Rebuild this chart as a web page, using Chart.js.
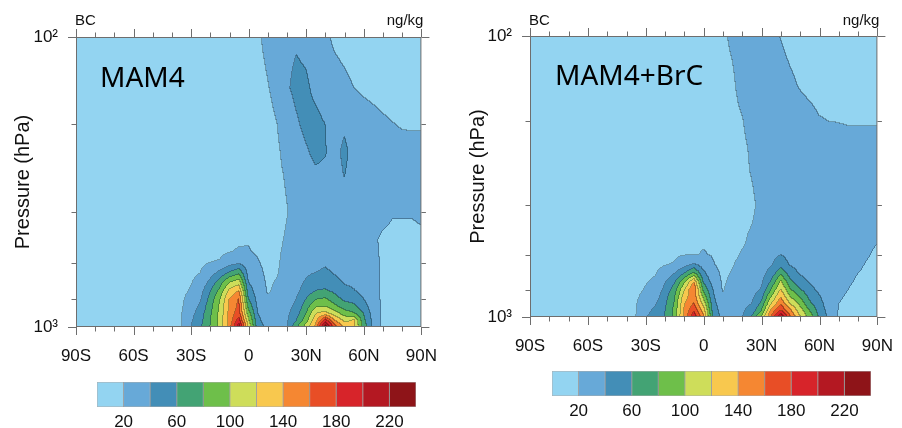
<!DOCTYPE html>
<html>
<head>
<meta charset="utf-8">
<script src="https://cdn.jsdelivr.net/npm/chart.js@4.4.1/dist/chart.umd.min.js"></script>
<style>
html, body { margin: 0; padding: 0; background: #fff; }
#wrap { position: relative; width: 902px; height: 428px; overflow: hidden; }
canvas { position: absolute; }
</style>
</head>
<body>
<div id="wrap">
<canvas id="left" width="456" height="380" style="left:0;top:0"></canvas>
<canvas id="right" width="462" height="380" style="left:450px;top:0"></canvas>
<canvas id="cbLeft" width="350" height="58" style="left:80px;top:370px"></canvas>
<canvas id="cbRight" width="350" height="58" style="left:535px;top:359px"></canvas>
</div>
<script>
// grid: latitude columns and pressure rows (hPa)
const latitudes = [-90,-85,-80,-75,-70,-65,-60,-55,-50,-45,-40,-35,-30,-25,-20,-15,-10,-5,0,
                   5,10,15,20,25,30,35,40,45,50,55,60,65,70,75,80,85,90];
const pressureLevels = [100,150,200,250,300,400,500,550,600,650,700,750,800,850,900,950,1000];

// BC mixing ratio (ng/kg), one row per pressure level, columns 90S..90N
const mam4 = [
  [8,8,8,8,8,8,9,9,9,9,9,9,10,10,10,10,11,11,12, 18,24,30,36,38,35,30,23,17,14,12,11,10,10,10,10,10,10],
  [9,9,9,9,9,9,9,10,10,10,10,10,10,11,11,11,12,12,13, 15,19,25,38,44,43,36,30,27,24,20,17,15,13,12,12,12,12],
  [9,9,9,10,10,10,10,10,10,11,11,11,11,12,12,12,13,13,13, 13,15,20,30,38,44,45,40,33,37,32,29,26,23,20.5,19,19,19],
  [10,10,10,10,10,11,11,11,11,11,12,12,12,12,13,13,13,14,14, 13,14,17,26,32,38,44,41,34,44,34,31,29,27,25,24,23,23],
  [10,10,10,10,11,11,11,11,11,12,12,12,12,13,13,13,14,14,14, 13,14,16,22,29,33,37,36,33,40.5,33,31,29,28,27,26,25,25],
  [11,11,11,11,11,11,12,12,12,12,12,13,13,13,14,14,15,15,16, 14,13,14,19,27,30,31,31,30,32,30,28,26,24,21,21,21,22],
  [11,11,11,11,12,12,12,12,12,13,13,13,13,14,15,15,16,17,19, 15,14,16,22,28,30,30,30,29,28,27,25,22,18,17,17,17,18],
  [12,12,12,12,12,12,12,13,13,13, 13,13,14,15,17,17,19,22,21,18,15,17,24,30,31,31,32,30,29,28,26,23,18,17,17,17,17],
  [12,12,12,12,12,13,13,13,13,13, 13,14,15,17,20,21,30,35,28,21,16,18,25,31,33,33,37,32,30,29,27,24,18,17,16,16,17],
  [12,12,12,12,13,13,13,13,13,13, 13,15,17,20,30,45,62,75,34,24,17,19,26,32,37,40,44,38,33,31,28,25,18,16,16,16,16],
  [12,12,12,13,13,13,13,13,13,13, 13,16,19,25,45,70,98,110,40,27,18,21,27,33,42,50,52,46,38,36,30,26,17,16,16,16,16],
  [12,12,13,13,13,13,13,13,14,14, 14,17,21,32,58,85,125,140,50,30,19,22,28,35,48,60,62,55,45,41,34,27,17,16,15,15,16],
  [12,13,13,13,13,13,13,14,14,14, 14,18,24,38,66,98,140,162,60,33,21,23,30,40,60,78,82,68,55,52,40,28,17,16,15,15,15],
  [13,13,13,13,13,13,14,14,14,14, 14,18,28,44,72,103,143,165,75,36,25,25,33,45,70,98,100,85,70,64,48,30,17,16,15,15,15],
  [13,13,13,13,13,14,14,14,14,14, 14,19,33,50,76,105,145,172,90,40,29,28,35,52,80,120,128,110,90,82,60,32,17,15,15,15,15],
  [13,13,13,13,14,14,14,14,14,14, 14,19,37,54,78,105,146,190,105,44,32,31,37,60,92,132,190,140,115,122,66,34,16,15,15,15,15],
  [13,13,13,14,14,14,14,14,14,14, 14,20,40,57,80,105,148,215,118,48,35,33,38,78,110,145,235,170,135,124,72,36,16,15,15,15,15]
];

const mam4BrC = [
  [8,8,8,8,8,8,9,9,9,9,9,9,10,10,10,10,11,11,12, 14,17,23,28,30,29,26,19.5,15,13,12,11,11,10,10,10,10,10],
  [9,9,9,9,9,9,9,10,10,10,10,10,10,11,11,11,12,12,13, 13,15,17,26,30,31,30,27,23,19,16,14,13,12,12,12,12,12],
  [9,9,9,10,10,10,10,10,10,11,11,11,11,12,12,12,13,13,13, 12,13,15,19,26,30,31,30,29,27,25,21,19.8,19.5,19,19,19,19],
  [10,10,10,10,10,11,11,11,11,11,12,12,12,12,13,13,13,14,14, 12,13,14,17,22,28,31,31,30,29,28,27,26,25,24,24,24,24],
  [10,10,10,10,11,11,11,11,11,12,12,12,12,13,13,13,14,14,14, 13,13,14,16,21,26,30,31,30,29,28,27,26,25,25,24,24,24],
  [11,11,11,11,11,11,12,12,12,12,12,13,13,13,14,14,15,15,16, 14,13,14,15,17,24,28,29,29,28,27,26,25,24,23,23,22,22],
  [11,11,11,11,12,12,12,12,12,13,13,13,13,14,15,15,16,17,18, 16,14,15,18,21,25,28,30,29,28,27,25,22,21,21,21,21,21],
  [12,12,12,12,12,12,12,13,13,13, 13,13,14,15,16,17,17,18,19,17,15,16,19,22,26,30,32,30,29,28,26,22,21,21,21,21,20],
  [12,12,12,12,12,13,13,13,13,13, 13,14,15,16,17,18,19,19,21,19,15,17,21,23,28,33,40,33,30,29,27,23,22,21,21,20.5,19],
  [12,12,12,12,13,13,13,13,13,13, 13,14,16,17,19,21,30,42,30,21,16,19,24,25,30,38,52,38,33,31,28,23,22,21,21,19.5,18],
  [12,12,12,13,13,13,13,13,13,13, 14,15,18,19,26,40,60,85,45,26,17,21,26,27,33,48,75,50,38,34,29,24,23,22,20,19,17],
  [12,12,13,13,13,13,13,13,14,14, 14,16,19,22,38,58,95,140,58,32,18,23,28,29,36,62,104,65,48,38,31,25,23,21,19,18,17],
  [12,13,13,13,13,13,13,14,14,14, 14,17,21,26,45,70,118,162,75,40,19,25,30,32,42,80,122,82,62,46,36,26,22,20,18,17,16],
  [13,13,13,13,13,13,14,14,14,14, 15,18,24,30,52,78,130,155,95,44,22,27,33,36,53,100,140,100,80,55,42,28,21,19,17,16,16],
  [13,13,13,13,13,14,14,14,14,14, 15,19,28,38,56,82,138,163,115,48,26,29,35,40,65,120,158,120,95,65,48,30,20,18,16,16,15],
  [13,13,13,13,14,14,14,14,14,14, 15,19,33,45,59,85,142,178,132,53,30,31,37,48,80,145,182,145,110,80,52,33,19.5,17,16,15,15],
  [13,13,13,14,14,14,14,14,14,14, 16,20,37,52,61,86,145,196,145,58,33,33,38,62,102,160,222,162,122,92,58,36,19,17,16,15,15]
];

const contourLevels = [20,40,60,80,100,120,140,160,180,200,220];
const colorbarTicks = [20,60,100,140,180,220];
const latTicks = [-90,-60,-30,0,30,60,90];
const latTickLabels = ['90S','60S','30S','0','30N','60N','90N'];
const pressureTickLabels = { 100: '10\u00b2', 1000: '10\u00b3' };

const palette = ['#93d4f1','#67a9d8','#438eb7','#43a374','#6ebf4a','#cedd5a',
                 '#f8c84e','#f58732','#e84e26','#d7242a','#b41822','#8e1418'];

const narrow = "'Liberation Sans Narrow','Liberation Sans',Arial,sans-serif";
const plain = "'Liberation Sans',Arial,sans-serif";

function hexRgb(h) {
    return [parseInt(h.slice(1, 3), 16), parseInt(h.slice(3, 5), 16), parseInt(h.slice(5, 7), 16)];
}
const paletteRgb = palette.map(hexRgb);

function bracket(arr, v) {
    let i = 0;
    while (i < arr.length - 2 && v > arr[i + 1]) i++;
    let t = (v - arr[i]) / (arr[i + 1] - arr[i]);
    return [i, Math.min(Math.max(t, 0), 1)];
}

// fills the plot area with the contoured field, sampled through the chart scales
const contourFill = {
    id: 'contourFill',
    beforeDatasetsDraw(chart, args, opts) {
        const grid = opts.grid;
        const xs = chart.scales.x, ys = chart.scales.y;
        const a = chart.chartArea;
        const x0 = Math.round(a.left), y0 = Math.round(a.top);
        const w = Math.round(a.right) - x0, h = Math.round(a.bottom) - y0;
        const logP = pressureLevels.map(Math.log);
        const cols = [], rows = [];
        for (let i = 0; i < w; i++) cols.push(bracket(latitudes, xs.getValueForPixel(x0 + i + 0.5)));
        for (let j = 0; j < h; j++) rows.push(bracket(logP, Math.log(ys.getValueForPixel(y0 + j + 0.5))));
        const lv = new Uint8Array(w * h);
        for (let j = 0; j < h; j++) {
            const [r, tr] = rows[j];
            for (let i = 0; i < w; i++) {
                const [c, tc] = cols[i];
                const v = (1 - tr) * ((1 - tc) * grid[r][c] + tc * grid[r][c + 1]) +
                          tr * ((1 - tc) * grid[r + 1][c] + tc * grid[r + 1][c + 1]);
                let k = 0;
                while (k < contourLevels.length && v >= contourLevels[k]) k++;
                lv[j * w + i] = k;
            }
        }
        const off = document.createElement('canvas');
        off.width = w; off.height = h;
        const octx = off.getContext('2d');
        const img = octx.createImageData(w, h);
        for (let j = 0; j < h; j++) {
            for (let i = 0; i < w; i++) {
                const k = j * w + i;
                const rgb = paletteRgb[lv[k]];
                let edge = (i < w - 1 && lv[k + 1] !== lv[k]) || (j < h - 1 && lv[k + w] !== lv[k]);
                const f = edge ? 0.72 : 1;
                img.data[k * 4] = rgb[0] * f;
                img.data[k * 4 + 1] = rgb[1] * f;
                img.data[k * 4 + 2] = rgb[2] * f;
                img.data[k * 4 + 3] = 255;
            }
        }
        octx.putImageData(img, 0, 0);
        chart.ctx.drawImage(off, x0, y0);
    }
};

// NCL-like frame with outward major/minor ticks plus panel texts
const frameTicks = {
    id: 'frameTicks',
    afterDraw(chart, args, opts) {
        const ctx = chart.ctx;
        const xs = chart.scales.x, ys = chart.scales.y;
        const a = chart.chartArea;
        ctx.save();
        ctx.strokeStyle = '#6e6e6e';
        ctx.lineWidth = 1;
        ctx.strokeRect(a.left + 0.5, a.top + 0.5, a.right - a.left - 1, a.bottom - a.top - 1);
        ctx.beginPath();
        for (let v = -90; v <= 90; v += 10) {
            const px = Math.round(xs.getPixelForValue(v)) + 0.5;
            const len = v % 30 === 0 ? 8 : 4.5;
            ctx.moveTo(px, a.bottom); ctx.lineTo(px, a.bottom + len);
            ctx.moveTo(px, a.top); ctx.lineTo(px, a.top - len);
        }
        [100, 200, 400, 600, 800, 1000].forEach(p => {
            const py = Math.round(ys.getPixelForValue(p)) + 0.5;
            const len = (p === 100 || p === 1000) ? 8 : 4.5;
            ctx.moveTo(a.left, py); ctx.lineTo(a.left - len, py);
            ctx.moveTo(a.right, py); ctx.lineTo(a.right + len, py);
        });
        ctx.stroke();

        ctx.fillStyle = '#111';
        ctx.textBaseline = 'alphabetic';
        ctx.font = '15px ' + narrow;
        ctx.textAlign = 'left';
        ctx.fillText('BC', a.left - 1, 25);
        ctx.textAlign = 'right';
        ctx.fillText('ng/kg', a.right + 2, 25);

        ctx.font = "28px 'Noto Sans', sans-serif";
        ctx.fillStyle = '#000';
        ctx.textAlign = 'left';
        ctx.fillText(opts.name, opts.nameX, opts.nameY);
        ctx.restore();
    }
};

function panel(id, grid, geom) {
    return new Chart(document.getElementById(id), {
        type: 'scatter',
        data: { datasets: [{ data: [] }] },
        plugins: [contourFill, frameTicks],
        options: {
            responsive: false,
            animation: false,
            layout: { padding: { left: 0, top: geom.top, right: geom.right, bottom: 0 } },
            plugins: {
                legend: { display: false },
                tooltip: { enabled: false },
                contourFill: { grid: grid },
                frameTicks: { name: geom.name, nameX: geom.nameX, nameY: geom.nameY }
            },
            scales: {
                x: {
                    type: 'linear', min: -90, max: 90,
                    afterFit: s => { s.height = geom.xh; },
                    grid: { display: false, drawTicks: false },
                    border: { display: false },
                    ticks: {
                        stepSize: 30, autoSkip: false, maxRotation: 0, padding: 19,
                        color: '#111', font: { family: narrow, size: 17 },
                        callback: v => { const i = latTicks.indexOf(v); return i < 0 ? '' : latTickLabels[i]; }
                    }
                },
                y: {
                    type: 'logarithmic', min: 100, max: 1000, reverse: true,
                    afterFit: s => { s.width = geom.yw; },
                    grid: { display: false, drawTicks: false },
                    border: { display: false },
                    title: {
                        display: true, text: 'Pressure (hPa)', color: '#111',
                        font: { family: plain, size: 20 }, padding: { top: geom.tp, bottom: 0 }
                    },
                    ticks: {
                        autoSkip: false, padding: 18, color: '#111',
                        font: { family: narrow, size: 17 },
                        callback: v => pressureTickLabels[v] || ''
                    }
                }
            }
        }
    });
}

panel('left', mam4, { top: 37, right: 18.5, xh: 53, yw: 76, tp: 11, name: 'MAM4', nameX: 100, nameY: 87 });
panel('right', mam4BrC, { top: 36, right: 20.3, xh: 63, yw: 80, tp: 16, name: 'MAM4+BrC', nameX: 105, nameY: 85 });

function colorbar(id) {
    const lows = [0].concat(contourLevels);
    return new Chart(document.getElementById(id), {
        type: 'bar',
        data: {
            labels: ['BC'],
            datasets: lows.map((lo, i) => ({
                data: [[lo, lo + 20]],
                backgroundColor: palette[i],
                borderColor: 'rgba(70,70,70,0.45)',
                borderWidth: 0.8,
                borderSkipped: false,
                grouped: false,
                barPercentage: 1,
                categoryPercentage: 1
            }))
        },
        options: {
            indexAxis: 'y',
            responsive: false,
            animation: false,
            layout: { padding: { left: 17, top: 12, right: 14, bottom: 0 } },
            plugins: { legend: { display: false }, tooltip: { enabled: false } },
            scales: {
                x: {
                    type: 'linear', min: 0, max: 240,
                    afterFit: s => { s.height = 21; },
                    afterBuildTicks: s => { s.ticks = colorbarTicks.map(v => ({ value: v })); },
                    grid: { display: false, drawTicks: false },
                    border: { display: false },
                    ticks: { autoSkip: false, maxRotation: 0, padding: 5, color: '#111', font: { family: narrow, size: 17 } }
                },
                y: { display: false }
            }
        }
    });
}

colorbar('cbLeft');
colorbar('cbRight');
</script>
</body>
</html>
